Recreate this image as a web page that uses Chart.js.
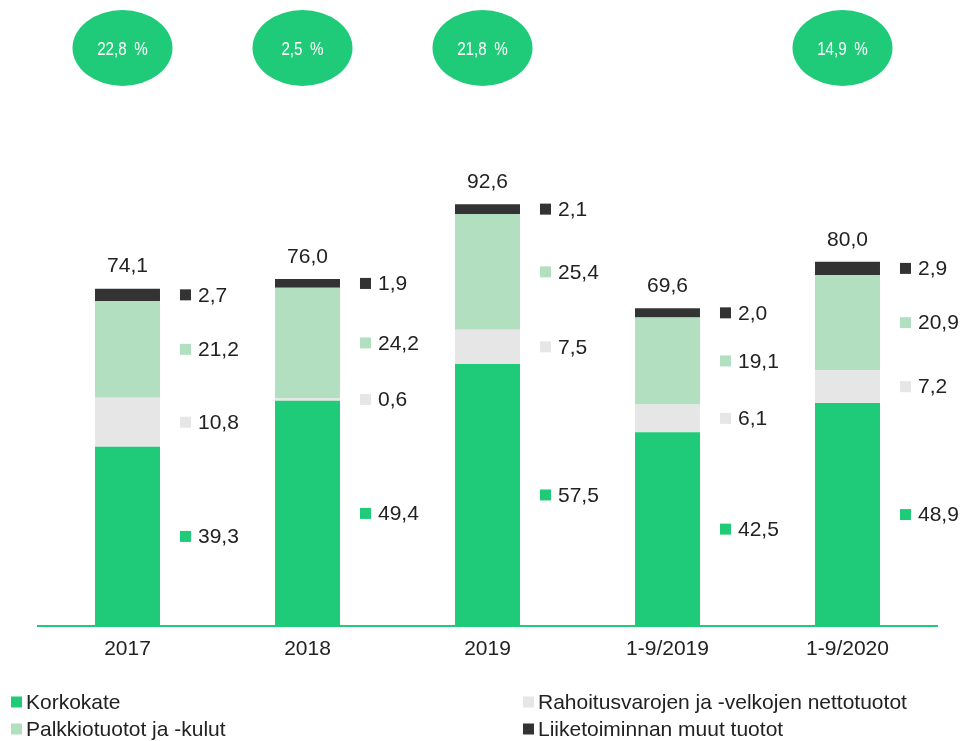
<!DOCTYPE html>
<html>
<head>
<meta charset="utf-8">
<script src="https://cdn.jsdelivr.net/npm/chart.js@4/dist/chart.umd.min.js"></script>
<style>
  html, body { margin: 0; padding: 0; background: #fff; }
  #wrap { width: 960px; height: 741px; position: relative; }
</style>
</head>
<body>
<div id="wrap"><canvas id="incomeChart" width="960" height="741"></canvas></div>
<script>
const categories = ['2017', '2018', '2019', '1-9/2019', '1-9/2020'];
const korkokate = [39.3, 49.4, 57.5, 42.5, 48.9];
const rahoitus = [10.8, 0.6, 7.5, 6.1, 7.2];
const palkkio = [21.2, 24.2, 25.4, 19.1, 20.9];
const muut = [2.7, 1.9, 2.1, 2.0, 2.9];
const totals = [74.1, 76.0, 92.6, 69.6, 80.0];
const growth = ['22,8 %', '2,5 %', '21,8 %', null, '14,9 %'];

const seriesNames = ['Korkokate', 'Rahoitusvarojen ja -velkojen nettotuotot', 'Palkkiotuotot ja -kulut', 'Liiketoiminnan muut tuotot'];
const colors = ['#1fcb78', '#e6e6e6', '#b3dfc1', '#333333'];

const fmt = v => v.toFixed(1).replace('.', ',');
const FONT = "'Liberation Sans', Arial, sans-serif";

const labelsPlugin = {
  id: 'labels',
  afterDatasetsDraw(chart) {
    const ctx = chart.ctx;
    const xs = chart.scales.x;
    ctx.save();
    ctx.font = '21px ' + FONT;
    ctx.textBaseline = 'middle';
    chart.data.datasets.forEach((ds, di) => {
      const meta = chart.getDatasetMeta(di);
      meta.data.forEach((bar, i) => {
        const right = bar.x + bar.width / 2;
        const yc = (bar.y + bar.base) / 2;
        ctx.fillStyle = colors[di];
        ctx.fillRect(right + 20, yc - 5.5, 11, 11);
        ctx.fillStyle = '#222';
        ctx.textAlign = 'left';
        ctx.fillText(fmt(ds.data[i]), right + 38, yc + 1);
      });
    });
    // totals above bars
    const topMeta = chart.getDatasetMeta(3);
    topMeta.data.forEach((bar, i) => {
      ctx.fillStyle = '#222';
      ctx.textAlign = 'center';
      ctx.fillText(fmt(totals[i]), bar.x, bar.y - 22);
    });
    // growth ellipses
    growth.forEach((g, i) => {
      if (!g) return;
      const cx = xs.getPixelForValue(i) - 5;
      ctx.fillStyle = '#1fcb78';
      ctx.beginPath();
      ctx.ellipse(cx, 48, 50, 38, 0, 0, Math.PI * 2);
      ctx.fill();
      ctx.save();
      ctx.translate(cx, 50);
      ctx.scale(0.8, 1);
      ctx.fillStyle = '#fff';
      ctx.font = '19px ' + FONT;
      ctx.textAlign = 'center';
      ctx.fillText(g.replace(' ', '\u2002'), 0, 0);
      ctx.restore();
    });
    // legend
    ctx.font = '21px ' + FONT;
    ctx.textAlign = 'left';
    const legendPos = [[10, 702], [522, 702], [10, 729], [522, 729]];
    seriesNames.forEach((name, k) => {
      const [lx, ly] = legendPos[k];
      ctx.fillStyle = colors[k];
      ctx.fillRect(lx + 1, ly - 5.5, 11, 11);
      ctx.fillStyle = '#222';
      ctx.fillText(name, lx + 16, ly + 1);
    });
    ctx.restore();
  }
};

const makeSet = (i, values) => ({
  label: seriesNames[i],
  data: values,
  backgroundColor: colors[i],
  borderWidth: 0,
  barPercentage: 0.361,
  categoryPercentage: 1
});

new Chart(document.getElementById('incomeChart').getContext('2d'), {
  type: 'bar',
  data: {
    labels: categories,
    datasets: [
      makeSet(0, korkokate),
      makeSet(1, rahoitus),
      makeSet(2, palkkio),
      makeSet(3, muut)
    ]
  },
  options: {
    responsive: false,
    animation: false,
    layout: { padding: { left: 37.5, right: 22.5, top: 79, bottom: 80 } },
    plugins: { legend: { display: false }, tooltip: { enabled: false } },
    scales: {
      x: {
        stacked: true,
        grid: { display: false, drawTicks: false },
        border: { display: true, color: '#1fcb78', width: 2 },
        ticks: { color: '#222', font: { family: FONT, size: 21 }, padding: 11 },
        afterFit(scale) { scale.height = 35; }
      },
      y: {
        stacked: true,
        display: false,
        min: 0,
        max: 120
      }
    }
  },
  plugins: [labelsPlugin]
});
</script>
</body>
</html>
